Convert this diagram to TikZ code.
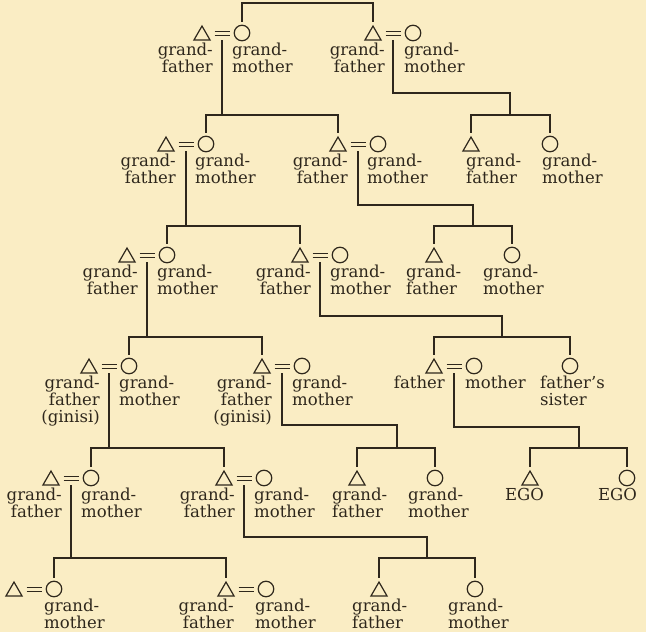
\documentclass[tikz,border=0pt]{standalone}
\usepackage{fontspec}
\setmainfont{DejaVu Serif}
\usetikzlibrary{shapes.geometric,calc}
\definecolor{paper}{HTML}{FAEDC4}
\definecolor{ink}{HTML}{2E271C}

\tikzset{
  kinline/.style={draw=ink, line width=1.3pt},
  male/.style={regular polygon, regular polygon sides=3, minimum size=18.5pt,
    inner sep=0pt, draw=ink, line width=1.2pt},
  female/.style={circle, minimum size=15.5pt, inner sep=0pt, draw=ink, line width=1.2pt},
  lbl/.style={inner sep=0pt, text=ink, font=\fontsize{16.5}{17}\selectfont},
  lblr/.style={lbl, align=right, anchor=north east},
  lbll/.style={lbl, align=left, anchor=north west},
  lblb/.style={lbl, anchor=base west},
}

% a married pair: man (triangle), "=" sign, woman (circle), and the point
% from which the line of descent leaves the "=" sign
\newcommand{\kinpair}[3]{%
  \node[male] (#1f) at (#2,#3+2.3) {};
  \node[female] (#1m) at (#2+40,#3) {};
  \coordinate (#1d) at (#2+20,#3+7);
  \path[kinline] (#2+12.5,#3-1.7) -- (#2+27.5,#3-1.7) (#2+12.5,#3+2.3) -- (#2+27.5,#3+2.3);
}
% sibling bar joining two nodes at the height of a bar coordinate
\newcommand{\sibbar}[3]{%
  \draw[kinline] ([yshift=3pt]#1.north) -- (#1 |- #3) -- (#2 |- #3) -- ([yshift=3pt]#2.north);
}

\begin{document}
\begin{tikzpicture}[x=1pt, y=-1pt]
\fill[paper] (0,0) rectangle (646,632);
\useasboundingbox (0,0) rectangle (646,632);

% heights of the sibling bars
\coordinate (b0) at (0,3);
\coordinate (b1) at (0,115);
\coordinate (b2) at (0,226);
\coordinate (b3) at (0,337);
\coordinate (b4) at (0,448);
\coordinate (b5) at (0,558);
% bends of the lines of descent that run to the right
\coordinate (jB) at (510,93);
\coordinate (jD) at (473,205);
\coordinate (jF) at (502,316);
\coordinate (jH) at (397,425);
\coordinate (jP) at (579,427);
\coordinate (jJ) at (427,537);

% married pairs
\kinpair{A}{202}{33}
\kinpair{B}{373}{33}
\kinpair{C}{166}{144}
\kinpair{D}{338}{144}
\kinpair{E}{127}{255}
\kinpair{F}{300}{255}
\kinpair{G}{89}{366}
\kinpair{H}{262}{366}
\kinpair{P}{434}{366}
\kinpair{I}{51}{478}
\kinpair{J}{224}{478}
\kinpair{K}{14}{589}
\kinpair{L}{226}{589}

% unmarried siblings
\node[male] (s1) at (471,146.3) {};
\node[female] (s2) at (550,144) {};
\node[male] (s3) at (434,257.3) {};
\node[female] (s4) at (512,255) {};
\node[female] (sis) at (570,366) {};
\node[male] (s5) at (357,480.3) {};
\node[female] (s6) at (435,478) {};
\node[male] (egof) at (530,480.3) {};
\node[female] (egom) at (627,478) {};
\node[male] (s7) at (379,591.3) {};
\node[female] (s8) at (475,589) {};

% lines of descent and sibling bars
\sibbar{Am}{Bf}{b0}
\draw[kinline] (Ad) -- (Ad |- b1);
\draw[kinline] (Bd) |- (jB) -- (jB |- b1);
\sibbar{Cm}{Df}{b1}
\sibbar{s1}{s2}{b1}
\draw[kinline] (Cd) -- (Cd |- b2);
\draw[kinline] (Dd) |- (jD) -- (jD |- b2);
\sibbar{Em}{Ff}{b2}
\sibbar{s3}{s4}{b2}
\draw[kinline] (Ed) -- (Ed |- b3);
\draw[kinline] (Fd) |- (jF) -- (jF |- b3);
\sibbar{Gm}{Hf}{b3}
\sibbar{Pf}{sis}{b3}
\draw[kinline] (Gd) -- (Gd |- b4);
\draw[kinline] (Hd) |- (jH) -- (jH |- b4);
\draw[kinline] (Pd) |- (jP) -- (jP |- b4);
\sibbar{Im}{Jf}{b4}
\sibbar{s5}{s6}{b4}
\sibbar{egof}{egom}{b4}
\draw[kinline] (Id) -- (Id |- b5);
\draw[kinline] (Jd) |- (jJ) -- (jJ |- b5);
\sibbar{Km}{Lf}{b5}
\sibbar{s7}{s8}{b5}

% labels of the married pairs
\node[lblr] (tAf) at (213,42.5) {grand-\\father};
\node[lbll] (tAm) at (232,42.5) {grand-\\mother};
\node[lblr] (tBf) at (385,42.5) {grand-\\father};
\node[lbll] (tBm) at (404,42.5) {grand-\\mother};
\node[lblr] (tCf) at (176,153.5) {grand-\\father};
\node[lbll] (tCm) at (195,153.5) {grand-\\mother};
\node[lblr] (tDf) at (348,153.5) {grand-\\father};
\node[lbll] (tDm) at (367,153.5) {grand-\\mother};
\node[lblr] (tEf) at (138,264.5) {grand-\\father};
\node[lbll] (tEm) at (157,264.5) {grand-\\mother};
\node[lblr] (tFf) at (311,264.5) {grand-\\father};
\node[lbll] (tFm) at (330,264.5) {grand-\\mother};
\node[lblr] (tGf) at (100,375.5) {grand-\\father\\(ginisi)};
\node[lbll] (tGm) at (119,375.5) {grand-\\mother};
\node[lblr] (tHf) at (272,375.5) {grand-\\father\\(ginisi)};
\node[lbll] (tHm) at (292,375.5) {grand-\\mother};
\node[lblr] (tPf) at (445,375.5) {father};
\node[lbll] (tPm) at (465,375.5) {mother};
\node[lblr] (tIf) at (62,487.5) {grand-\\father};
\node[lbll] (tIm) at (81,487.5) {grand-\\mother};
\node[lblr] (tJf) at (235,487.5) {grand-\\father};
\node[lbll] (tJm) at (254,487.5) {grand-\\mother};
\node[lbll] (tKm) at (44,598.5) {grand-\\mother};
\node[lblr] (tLf) at (234,598.5) {grand-\\father};
\node[lbll] (tLm) at (255,598.5) {grand-\\mother};

% labels of the siblings
\node[lbll] (ts1) at (466,153.5) {grand-\\father};
\node[lbll] (ts2) at (542,153.5) {grand-\\mother};
\node[lbll] (ts3) at (406,264.5) {grand-\\father};
\node[lbll] (ts4) at (483,264.5) {grand-\\mother};
\node[lbll] (tsis) at (540,375.5) {father’s\\sister};
\node[lbll] (ts5) at (332,487.5) {grand-\\father};
\node[lbll] (ts6) at (408,487.5) {grand-\\mother};
\node[lblb] (tegof) at (505,500) {EGO};
\node[lblb] (tegom) at (598,500) {EGO};
\node[lbll] (ts7) at (352,598.5) {grand-\\father};
\node[lbll] (ts8) at (448,598.5) {grand-\\mother};
\end{tikzpicture}
\end{document}
